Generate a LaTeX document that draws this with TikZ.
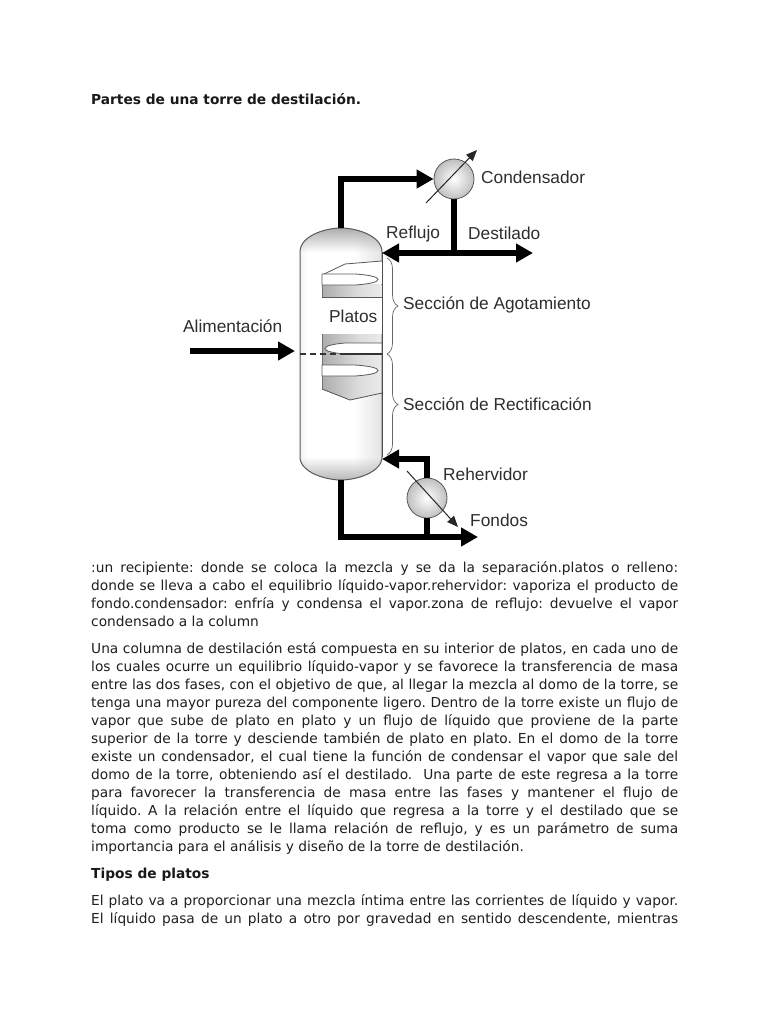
\documentclass[tikz,border=0pt]{standalone}
\usepackage{fontspec}
\setmainfont{DejaVu Sans}
\newfontfamily\labelfont{Liberation Sans}
\usepackage{xcolor}
\usetikzlibrary{arrows.meta,positioning,calc,decorations.pathreplacing,fadings}
\pgfdeclarehorizontalshading{towershade}{100bp}{
  color(0bp)=(black!34); color(14bp)=(black!14); color(30bp)=(white); color(58bp)=(white);
  color(80bp)=(black!14); color(100bp)=(black!45)}
\pgfdeclarehorizontalshading{plateshade}{100bp}{
  color(0bp)=(black!48); color(55bp)=(black!14); color(100bp)=(white)}
\tikzfading[name=fadeDown,top color=transparent!0,bottom color=transparent!100]
\tikzfading[name=fadeUp,top color=transparent!100,bottom color=transparent!0]
\tikzset{
  pipe/.style={line width=5.4pt,black},
  pipearrow/.style={pipe,-{Triangle[length=17pt,width=18pt]}},
  thinarrow/.style={line width=1pt,black!85,-{Triangle[length=11pt,width=9pt]}},
  exchanger/.style={circle,draw=black!65,line width=0.8pt,minimum size=40pt,inner sep=0pt,inner color=white,outer color=black!25},
  bracebar/.style={draw=black!60,line width=0.7pt,decorate,decoration={brace,amplitude=11pt}},
  partlabel/.style={font=\labelfont\fontsize{17.3}{20}\selectfont,text=black!82,inner sep=0pt,anchor=base west},
  bodytext/.style={font=\frenchspacing\fontsize{13.75}{18}\selectfont,text=black!88,inner sep=0pt,anchor=north west,text width=587pt,align=justify},
  headtext/.style={font=\bfseries\fontsize{13.75}{18}\selectfont,text=black!90,inner sep=0pt,anchor=base west}
}
\begin{document}
\begin{tikzpicture}[x=1pt,y=-1pt]
  \useasboundingbox (0,0) rectangle (768,1024);
  \fill[white] (0,0) rectangle (768,1024);

  \node[headtext] (title) at (91,105) {Partes de una torre de destilación.};

  % Column body
  \path[shading=towershade] (300,457) -- (300,252)
    .. controls (300,236) and (325,228) .. (341,228)
    .. controls (357,228) and (382,236) .. (382,252)
    -- (382,457)
    .. controls (382,472) and (357,480) .. (341,480)
    .. controls (325,480) and (300,472) .. (300,457) -- cycle;
  % Darker rims of the two heads
  \fill[black!32,path fading=fadeDown] (300,252)
    .. controls (300,236) and (325,228) .. (341,228)
    .. controls (357,228) and (382,236) .. (382,252) -- cycle;
  \fill[black!28,path fading=fadeUp] (300,457) -- (382,457)
    .. controls (382,472) and (357,480) .. (341,480)
    .. controls (325,480) and (300,472) .. (300,457) -- cycle;
  \draw[black!65,line width=1pt] (300,457) -- (300,252)
    .. controls (300,236) and (325,228) .. (341,228)
    .. controls (357,228) and (382,236) .. (382,252)
    -- (382,457)
    .. controls (382,472) and (357,480) .. (341,480)
    .. controls (325,480) and (300,472) .. (300,457) -- cycle;
  % Cut-away with the plates
  \fill[white] (322,262) rectangle (381.5,392);
  \fill[white] (322,275) -- (345,264) -- (381.5,261) -- (381.5,297) -- (322,297) -- cycle;
  \fill[shading=plateshade] (322,284) rectangle (381.5,297);
  \fill[shading=plateshade] (322,334) -- (381.5,334) -- (381.5,393) -- (350,400) -- (322,389) -- cycle;
  \draw[black!65,line width=0.8pt] (322,275) -- (345,264) -- (382,261);
  \draw[black!65,line width=0.8pt] (322,297) -- (382,297);
  \draw[black!65,line width=0.8pt] (322,389) -- (350,400) -- (382,393);
  \draw[black!55,line width=0.6pt] (322,275) -- (322,297);
  \draw[black!55,line width=0.6pt] (322,334) -- (322,389);
  % Liquid on each plate
  \foreach \y in {274,365} {
    \fill[white,draw=black!65,line width=0.8pt] (322,\y) -- (355,\y) .. controls (370,\y+1) and (378,\y+3) .. (378,\y+5.5)
      .. controls (378,\y+8) and (370,\y+10) .. (355,\y+11) -- (322,\y+11) -- cycle;
  }
  \fill[white,draw=black!65,line width=0.8pt] (382,343) -- (345,343) .. controls (333,344) and (325,346) .. (325,348.5)
    .. controls (325,351) and (333,353) .. (345,354) -- (382,354) -- cycle;
  \draw[black!70,line width=1pt] (382,252) -- (382,457);
  \draw[black!80,line width=1.2pt,dash pattern=on 6pt off 4pt] (300,354) -- (345,354);
  \draw[black!80,line width=1.2pt] (345,354) -- (382,354);

  \node[partlabel] (plates) at (329,322) {Platos};

  % Exchangers
  \node[exchanger] (condenser) at (454,179) {};
  \node[exchanger] (reboiler) at (427,498) {};
  \coordinate (domeTop) at (341,228);
  \coordinate (domeBottom) at (341,480);
  \coordinate (refluxIn) at (382,253);
  \coordinate (refluxTee) at (454,253);
  \coordinate (distillateEnd) at (533,253);
  \coordinate (feedStart) at (190,351);
  \coordinate (feedEnd) at (295,351);
  \coordinate (returnIn) at (382,459);
  \coordinate (bottomsEnd) at (478,537);
  \coordinate (bottomsTee) at (427,537);
  \coordinate (condUtilA) at (426,203);
  \coordinate (condUtilB) at (477,150);
  \coordinate (rebUtilA) at (407,471);
  \coordinate (rebUtilB) at (458,527);

  % Pipes
  \draw[pipearrow] (domeTop) |- (condenser.west);
  \draw[pipe] (condenser.south) -- (refluxTee);
  \draw[pipearrow] (refluxTee) -- (refluxIn);
  \draw[pipearrow] (refluxTee) -- (distillateEnd);
  \draw[pipearrow] (feedStart) -- (feedEnd);
  \draw[pipearrow] (reboiler.north) |- (returnIn);
  \draw[pipe] (reboiler.south) -- (bottomsTee);
  \draw[pipearrow] (domeBottom) |- (bottomsEnd);
  \draw[thinarrow] (condUtilA) -- (condUtilB);
  \draw[thinarrow] (rebUtilA) -- (rebUtilB);

  % Braces
  \draw[bracebar] (387,258) -- (387,354);
  \draw[bracebar] (387,354) -- (387,455);

  % Labels
  \node[partlabel] (condLabel) at (481,184) {Condensador};
  \node[partlabel] (refluxLabel) at (386,239) {Reflujo};
  \node[partlabel] (distLabel) at (468,240) {Destilado};
  \node[partlabel] (stripLabel) at (403,309) {Sección de Agotamiento};
  \node[partlabel] (feedLabel) at (183,332) {Alimentación};
  \node[partlabel] (rectLabel) at (403,410) {Sección de Rectificación};
  \node[partlabel] (rebLabel) at (443,480) {Rehervidor};
  \node[partlabel] (bottomsLabel) at (470,526) {Fondos};

  % Text below the figure
  \node[bodytext] (paraParts) at (91,561) {:un recipiente: donde se coloca la mezcla y se da la separación.platos o relleno:\linebreak
    donde se lleva a cabo el equilibrio líquido-vapor.rehervidor: vaporiza el producto de\linebreak
    fondo.condensador: enfría y condensa el vapor.zona de reflujo: devuelve el vapor\linebreak
    condensado a la column};
  \node[bodytext] (paraColumn) at (91,642) {Una columna de destilación está compuesta en su interior de platos, en cada uno de\linebreak
    los cuales ocurre un equilibrio líquido-vapor y se favorece la transferencia de masa\linebreak
    entre las dos fases, con el objetivo de que, al llegar la mezcla al domo de la torre, se\linebreak
    tenga una mayor pureza del componente ligero. Dentro de la torre existe un flujo de\linebreak
    vapor que sube de plato en plato y un flujo de líquido que proviene de la parte\linebreak
    superior de la torre y desciende también de plato en plato. En el domo de la torre\linebreak
    existe un condensador, el cual tiene la función de condensar el vapor que sale del\linebreak
    domo de la torre, obteniendo así el destilado.~ Una parte de este regresa a la torre\linebreak
    para favorecer la transferencia de masa entre las fases y mantener el flujo de\linebreak
    líquido. A la relación entre el líquido que regresa a la torre y el destilado que se\linebreak
    toma como producto se le llama relación de reflujo, y es un parámetro de suma\linebreak
    importancia para el análisis y diseño de la torre de destilación.};
  \node[headtext] (plateHead) at (91,878) {Tipos de platos};
  \node[bodytext] (paraPlates) at (91,894) {\parfillskip=0pt El plato va a proporcionar una mezcla íntima entre las corrientes de líquido y vapor.\linebreak
    El líquido pasa de un plato a otro por gravedad en sentido descendente, mientras\par};
\end{tikzpicture}
\end{document}
